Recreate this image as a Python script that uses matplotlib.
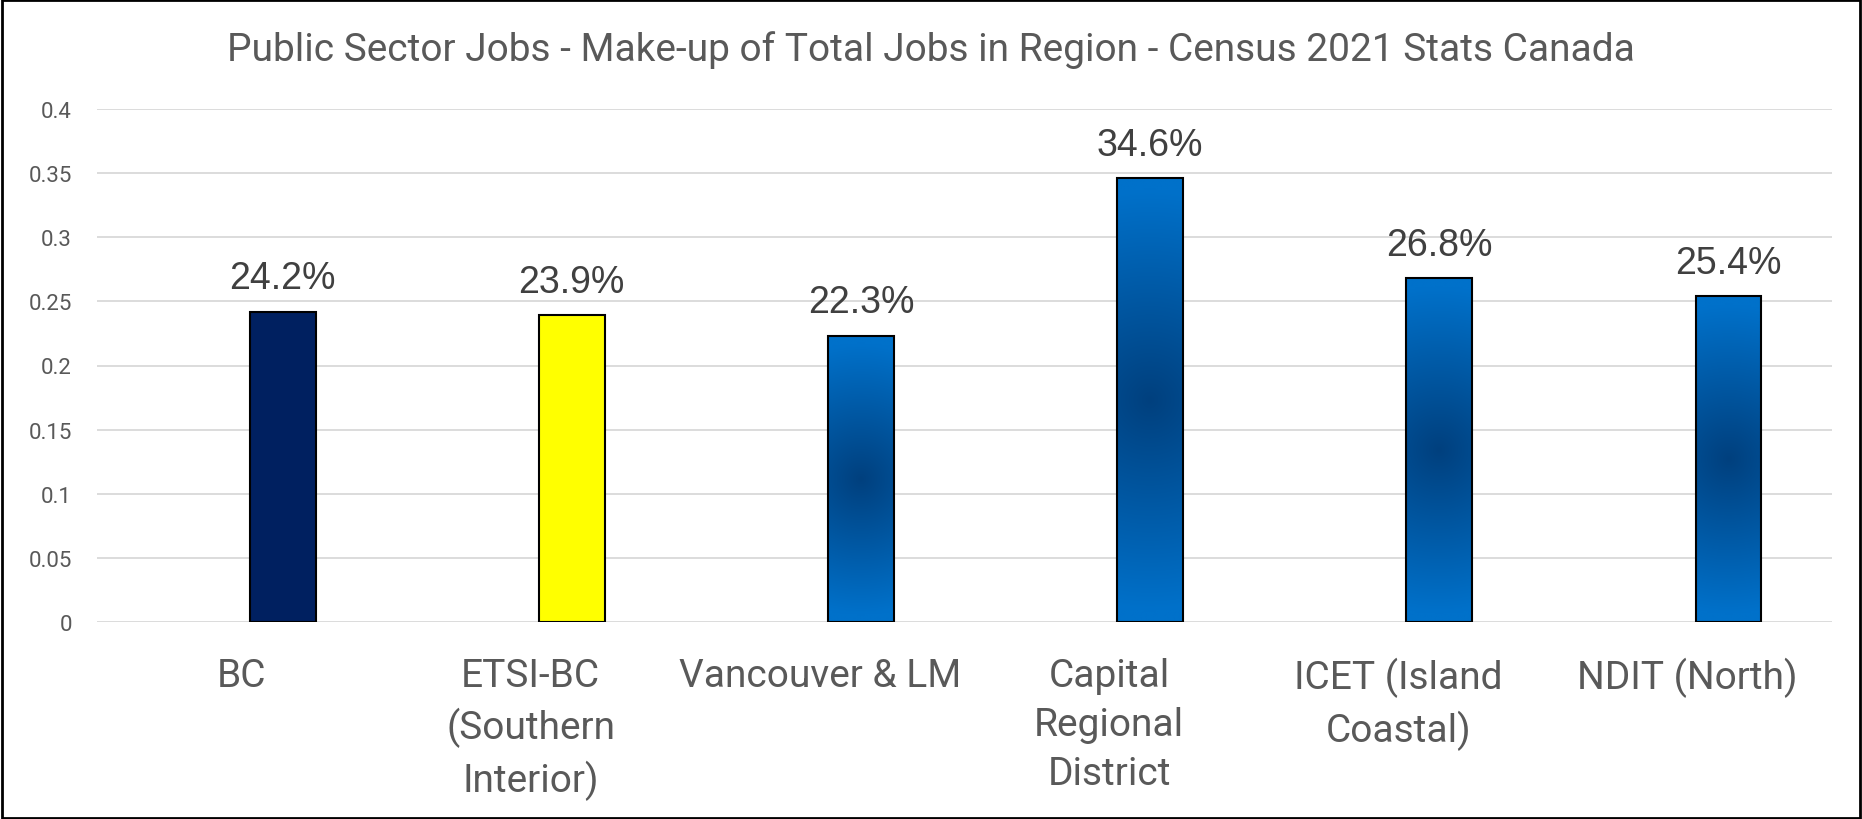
import numpy as np
import matplotlib
matplotlib.use("Agg")
import matplotlib.pyplot as plt
from matplotlib.patches import Rectangle

# data
regions = ["BC", "ETSI-BC\n(Southern\nInterior)", "Vancouver & LM",
           "Capital\nRegional\nDistrict", "ICET (Island\nCoastal)", "NDIT (North)"]
share = [0.242, 0.239, 0.223, 0.346, 0.268, 0.254]
yticks = [0, 0.05, 0.1, 0.15, 0.2, 0.25, 0.3, 0.35, 0.4]
ytick_labels = ["0", "0.05", "0.1", "0.15", "0.2", "0.25", "0.3", "0.35", "0.4"]

title = "Public Sector Jobs - Make-up of Total Jobs in Region - Census 2021 Stats Canada"

fig = plt.figure(figsize=(18.62, 8.20), dpi=100)
ax = fig.add_axes([97 / 1862, 1 - 623 / 820, (1832 - 97) / 1862, (623 - 110) / 820])

x = np.arange(len(regions))
bar_x = x + 0.142
width = 0.228

# gradient for the regional bars (dark centre, lighter ends)
dark = np.array([0x00, 0x40, 0x7E]) / 255
light = np.array([0x00, 0x71, 0xCA]) / 255

def gradient_img(w_px, h_px):
    ny, nx = 200, 40
    yy, xx = np.mgrid[-1:1:ny * 1j, -1:1:nx * 1j]
    t = np.sqrt((xx * w_px / h_px) ** 2 + yy ** 2)
    t = np.clip(t / 0.95, 0, 1)
    return dark + (light - dark) * t[..., None]

unit_px = (1832 - 97) / 6.0
val_px = (623 - 110) / 0.4

for i, (bx, v) in enumerate(zip(bar_x, share)):
    if i == 0:
        ax.bar(bx, v, width=width, color="#002060", edgecolor="black", linewidth=1.5, zorder=3)
    elif i == 1:
        ax.bar(bx, v, width=width, color="#FFFF00", edgecolor="black", linewidth=1.5, zorder=3)
    else:
        img = gradient_img(width * unit_px, v * val_px)
        ax.imshow(img, extent=[bx - width / 2, bx + width / 2, 0, v],
                  aspect="auto", zorder=3, interpolation="bilinear")
        ax.bar(bx, v, width=width, color="none", edgecolor="black", linewidth=1.5, zorder=4)
    ax.annotate(f"{v * 100:.1f}%", (bx, v), xytext=(0, 17), textcoords="offset points",
                ha="center", va="baseline", fontsize=27, color="#404040",
                family="Liberation Sans")

ax.set_xlim(-0.5, 5.5)
ax.set_ylim(0, 0.4)
ax.set_yticks(yticks)
ax.set_yticklabels(ytick_labels, fontsize=16, color="#595959", family="Roboto")
ax.set_xticks(x)
ax.set_xticklabels(regions, fontsize=28, color="#595959", family="Roboto", linespacing=1.41)
ax.tick_params(axis="both", length=0)
ax.tick_params(axis="y", pad=18)
ax.tick_params(axis="x", pad=25)
ax.grid(axis="y", color="#D9D9D9", linewidth=1.3, zorder=0)
ax.set_axisbelow(True)
for s in ax.spines.values():
    s.set_visible(False)

fig.text(0.5, 1 - 50 / 820, title, ha="center", va="center", fontsize=28,
         color="#595959", family="Roboto")

fig.patches.append(Rectangle((0.001, 0.001), 0.998, 0.998, transform=fig.transFigure,
                             fill=False, edgecolor="black", linewidth=2))

fig.savefig("out.png", dpi=100)
